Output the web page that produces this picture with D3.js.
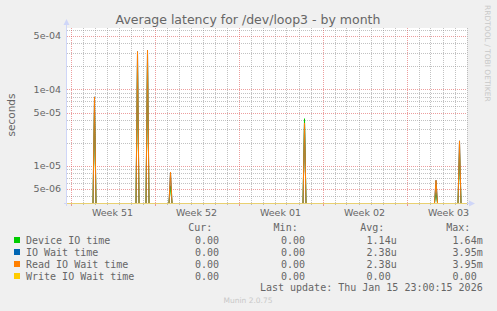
<!DOCTYPE html>
<html>
<head>
<meta charset="utf-8">
<script src="https://cdn.jsdelivr.net/npm/d3@7"></script>
<style>
  body { margin: 0; background: #f0f0f0; }
  svg { display: block; }
  text { font-family: "DejaVu Sans", sans-serif; fill: #666; }
  .mono { font-family: "DejaVu Sans Mono", monospace; white-space: pre; }
</style>
</head>
<body>
<div id="chart-area"></div>
<script>
// Munin "Average latency for /dev/loop3 - by month", log scale

// data (times in UTC)
var spikeTimes = ["2025-12-17T00:00Z", "2025-12-20T14:00Z", "2025-12-21T10:00Z",
    "2025-12-23T08:00Z", "2026-01-03T12:00Z", "2026-01-14T11:00Z", "2026-01-16T10:00Z"];
var deviceIO = [5.5e-5, 2.2e-4, 2.3e-4, 5.5e-6, 4.15e-5, 4.5e-6, 1.5e-5];
var ioWait   = [8.0e-5, 3.13e-4, 3.26e-4, 8.3e-6, 3.65e-5, 6.5e-6, 2.13e-5];
var readWait = [8.0e-5, 3.13e-4, 3.26e-4, 8.3e-6, 3.65e-5, 6.5e-6, 2.13e-5];
var writeWait = [0, 0, 0, 0, 0, 0, 0];

var seriesNames = ["Device IO time", "IO Wait time", "Read IO Wait time", "Write IO Wait time"];
var seriesColors = ["#00cc00", "#0066b3", "#ff8000", "#ffcc00"];
var curValues = ["0.00 ", "0.00 ", "0.00 ", "0.00 "];
var minValues = ["0.00 ", "0.00 ", "0.00 ", "0.00 "];
var avgValues = ["1.14u", "2.38u", "2.38u", "0.00 "];
var maxValues = ["1.64m", "3.95m", "3.95m", "0.00 "];

var yTickValues = [5e-4, 1e-4, 5e-5, 1e-5, 5e-6];
var yTickLabels = ["5e-04", "1e-04", "5e-05", "1e-05", "5e-06"];
var weekLabels = ["Week 51", "Week 52", "Week 01", "Week 02", "Week 03"];

var startTime = new Date(Date.UTC(2025, 11, 14, 17));
var endTime = new Date(Date.UTC(2026, 0, 17, 1));
var yMin = 3.28e-6, yMax = 6.37e-4;

var W = 497, H = 311;
var plotLeft = 67, plotRight = 467, plotTop = 28, plotBottom = 203;

var svg = d3.select("#chart-area")
    .append("svg")
        .attr("width", W)
        .attr("height", H);

svg.append("rect")
    .attr("width", W).attr("height", H)
    .attr("fill", "#f0f0f0");

// scales
var x = d3.scaleUtc()
    .domain([startTime, endTime])
    .range([plotLeft, plotRight]);

var y = d3.scaleLog()
    .domain([yMin, yMax])
    .range([plotBottom, plotTop])
    .clamp(true);

// canvas
svg.append("rect")
    .attr("x", plotLeft).attr("y", plotTop)
    .attr("width", plotRight - plotLeft).attr("height", plotBottom - plotTop)
    .attr("fill", "#ffffff");

var grid = svg.append("g");
var gridGray = "rgba(143,143,143,0.55)", gridPink = "rgba(222,79,79,0.55)";

// horizontal grid
var minorY = [];
for (var e = -6; e <= -3; e++) {
    for (var k = 1; k <= 9; k++) {
        var v = k * Math.pow(10, e);
        if (v > yMin && v < yMax) minorY.push(v);
    }
}
minorY.forEach(function(v) {
    var major = yTickValues.some(function(t) { return Math.abs(t - v) / v < 1e-6; });
    var yy = Math.round(y(v)) + 0.5;
    grid.append("line")
        .attr("x1", plotLeft).attr("x2", plotRight)
        .attr("y1", yy).attr("y2", yy)
        .attr("stroke", major ? gridPink : gridGray)
        .attr("stroke-dasharray", "1,1");
});

// vertical grid: days and weeks
var days = d3.utcDay.range(startTime, endTime);
var weeks = d3.utcMonday.range(startTime, endTime);
days.forEach(function(d) {
    var isWeek = d.getUTCDay() === 1;
    var xx = Math.round(x(d)) + 0.5;
    grid.append("line")
        .attr("x1", xx).attr("x2", xx)
        .attr("y1", plotTop).attr("y2", plotBottom)
        .attr("stroke", isWeek ? gridPink : gridGray)
        .attr("stroke-dasharray", "1,1");
    grid.append("line")
        .attr("x1", xx).attr("x2", xx)
        .attr("y1", plotBottom).attr("y2", plotBottom + (isWeek ? 3 : 2))
        .attr("stroke", isWeek ? gridPink : gridGray);
});

// axes lines + arrows
var axisCol = "#cfd6f8";
svg.append("line")
    .attr("x1", plotLeft - 0.5).attr("x2", plotLeft - 0.5)
    .attr("y1", plotBottom + 3).attr("y2", plotTop - 4)
    .attr("stroke", axisCol);
svg.append("path")
    .attr("d", "M" + (plotLeft - 3.5) + "," + (plotTop - 3) + "L" + (plotLeft - 0.5) + "," + (plotTop - 9) +
        "L" + (plotLeft + 2.5) + "," + (plotTop - 3) + "Z")
    .attr("fill", axisCol);
svg.append("line")
    .attr("x1", plotLeft - 3).attr("x2", plotRight + 4)
    .attr("y1", plotBottom + 0.5).attr("y2", plotBottom + 0.5)
    .attr("stroke", axisCol);
svg.append("path")
    .attr("d", "M" + (plotRight + 2) + "," + (plotBottom - 2.5) + "L" + (plotRight + 8) + "," + (plotBottom + 0.5) +
        "L" + (plotRight + 2) + "," + (plotBottom + 3.5) + "Z")
    .attr("fill", axisCol);

// y tick labels
yTickValues.forEach(function(v, i) {
    svg.append("text")
        .attr("x", 61)
        .attr("y", y(v))
        .attr("dy", "0.36em")
        .attr("text-anchor", "end")
        .attr("font-size", "9.5px")
        .text(yTickLabels[i]);
});

// week labels
weeks.forEach(function(d, i) {
    svg.append("text")
        .attr("x", x(d3.utcHour.offset(d, 84)))
        .attr("y", 216)
        .attr("text-anchor", "middle")
        .attr("font-size", "9.5px")
        .text(weekLabels[i]);
});

// series lines
var line = d3.line()
    .x(function(d) { return x(d.t); })
    .y(function(d) { return d.v > 0 ? y(d.v) : plotBottom; });

var lines = svg.append("g").attr("fill", "none").attr("stroke-width", 1);

[deviceIO, ioWait, readWait].forEach(function(vals, si) {
    spikeTimes.forEach(function(s, i) {
        var t = new Date(s);
        var pts = [
            {t: d3.utcHour.offset(t, -3), v: 0},
            {t: t, v: vals[i]},
            {t: d3.utcHour.offset(t, 3), v: 0}
        ];
        lines.append("path")
            .attr("d", line(pts))
            .attr("stroke", seriesColors[si]);
    });
});

// write wait is zero everywhere -> sits on the bottom edge
var writePts = [{t: startTime, v: writeWait[0]}];
spikeTimes.forEach(function(s, i) { writePts.push({t: new Date(s), v: writeWait[i]}); });
writePts.push({t: endTime, v: 0});
lines.append("path")
    .attr("d", line(writePts))
    .attr("stroke", seriesColors[3])
    .attr("stroke-opacity", 0.55)
    .attr("transform", "translate(0,0.5)");

// title
svg.append("text")
    .attr("x", 248)
    .attr("y", 24)
    .attr("text-anchor", "middle")
    .attr("font-size", "12.5px")
    .text("Average latency for /dev/loop3 - by month");

// y label
svg.append("text")
    .attr("transform", "translate(15,115) rotate(-90)")
    .attr("text-anchor", "middle")
    .attr("font-size", "10.5px")
    .text("seconds");

// watermark
svg.append("text")
    .attr("transform", "translate(485,5) rotate(90)")
    .attr("font-size", "7.5px")
    .style("fill", "#c8c8c8")
    .text("RRDTOOL / TOBI OETIKER");

// legend
var headers = [["Cur:", 212.3], ["Min:", 297.7], ["Avg:", 384.3], ["Max:", 470.3]];
headers.forEach(function(h) {
    svg.append("text")
        .attr("class", "mono")
        .attr("x", h[1])
        .attr("y", 231)
        .attr("text-anchor", "end")
        .attr("font-size", "10px")
        .text(h[0]);
});

var cols = [[curValues, 225], [minValues, 311], [avgValues, 396.7], [maxValues, 482.7]];
seriesNames.forEach(function(name, i) {
    var yy = 240 + i * 12;
    svg.append("rect")
        .attr("x", 14).attr("y", yy - 3)
        .attr("width", 6).attr("height", 6)
        .attr("fill", seriesColors[i]);
    svg.append("text")
        .attr("class", "mono")
        .attr("x", 26)
        .attr("y", yy + 3.5)
        .attr("font-size", "10px")
        .text(name);
    cols.forEach(function(c) {
        svg.append("text")
            .attr("class", "mono")
            .attr("x", c[1])
            .attr("y", yy + 3.5)
            .attr("text-anchor", "end")
            .attr("font-size", "10px")
            .text(c[0][i]);
    });
});

svg.append("text")
    .attr("class", "mono")
    .attr("x", 482.7)
    .attr("y", 291.3)
    .attr("text-anchor", "end")
    .attr("font-size", "10px")
    .text("Last update: Thu Jan 15 23:00:15 2026");

svg.append("text")
    .attr("x", 248)
    .attr("y", 303)
    .attr("text-anchor", "middle")
    .attr("font-size", "7.5px")
    .style("fill", "#c8c8c8")
    .text("Munin 2.0.75");
</script>
</body>
</html>
